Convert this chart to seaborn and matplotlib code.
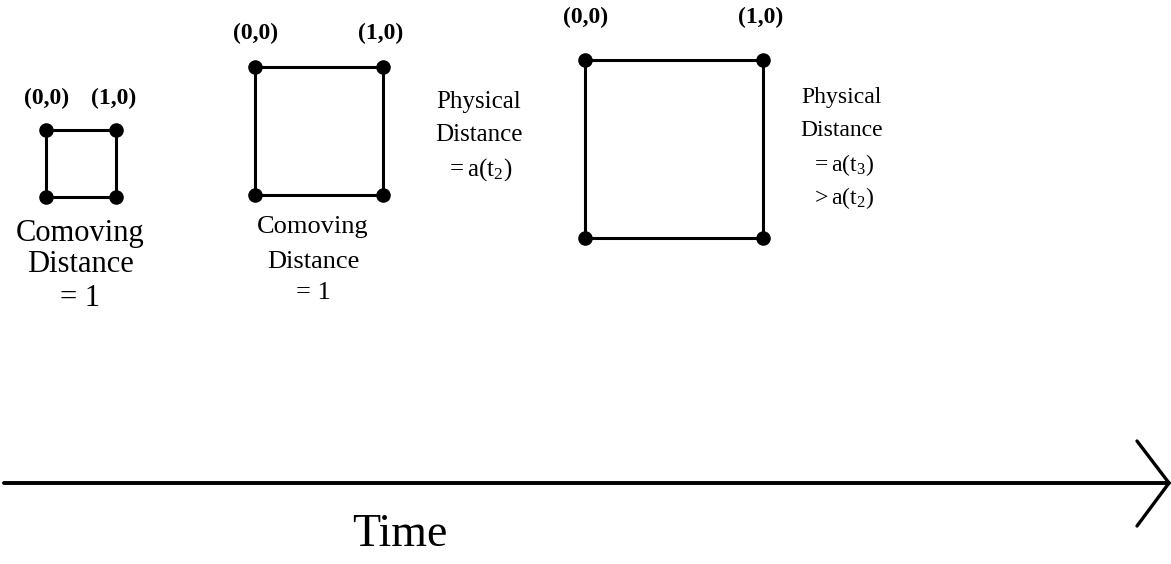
import matplotlib
matplotlib.use("Agg")
import matplotlib.pyplot as plt
import seaborn as sns
import pandas as pd

sns.set_theme(style="white")
plt.rcParams['font.family'] = ['Liberation Serif', 'DejaVu Serif']
plt.rcParams['mathtext.fontset'] = 'custom'
plt.rcParams['mathtext.rm'] = 'Liberation Serif'
plt.rcParams['mathtext.it'] = 'Liberation Serif:italic'

# Squares (pixel coordinates of the diagram)
square_left = [46, 255, 585]
square_right = [116, 383, 763]
square_top = [130, 67, 60]
square_bottom = [197, 195, 238]
corner_labels = ["(0,0)", "(1,0)"]
label_y = [98, 33, 17]

comoving_text = ["Comoving", "Distance", "= 1"]
comoving_x = [80, 313]
comoving_y = [[233, 265, 298], [227, 262, 293]]
comoving_size = [22, 19]

phys2_text = ["Physical", "Distance", r"$=\mathrm{a}(\mathrm{t}_2)$"]
phys2_x = 479
phys2_y = [102, 135, 170]
phys3_text = ["Physical", "Distance", r"$=\mathrm{a}(\mathrm{t}_3)$", r"$>\mathrm{a}(\mathrm{t}_2)$"]
phys3_x = 842
phys3_y = [97, 130, 165, 198]

axis_y = 483
axis_x = [4, 1169]
time_label = "Time"
time_pos = (400, 535)

fig = plt.figure(figsize=(11.71, 5.64), dpi=100)
ax = fig.add_axes([0, 0, 1, 1])
ax.set_xlim(0, 1171)
ax.set_ylim(564, 0)
ax.axis("off")

rows = []
for i in range(3):
    for x in (square_left[i], square_right[i]):
        for y in (square_top[i], square_bottom[i]):
            rows.append({"x": x, "y": y, "sq": i})
corners = pd.DataFrame(rows)

for i in range(3):
    xs = [square_left[i], square_right[i], square_right[i], square_left[i], square_left[i]]
    ys = [square_top[i], square_top[i], square_bottom[i], square_bottom[i], square_top[i]]
    ax.plot(xs, ys, color="black", lw=2.2, solid_joinstyle="miter", zorder=2)
    ax.text(square_left[i] + 1, label_y[i], corner_labels[0], ha="center", va="center",
            fontsize=17, fontweight="bold", color="black")
    ax.text(square_right[i] - 2, label_y[i], corner_labels[1], ha="center", va="center",
            fontsize=17, fontweight="bold", color="black")

sns.scatterplot(data=corners, x="x", y="y", ax=ax, color="black", s=110,
                edgecolor="black", linewidth=0, zorder=3, legend=False)
ax.set_xlim(0, 1171)
ax.set_ylim(564, 0)
ax.set_xlabel("")
ax.set_ylabel("")

for j in range(2):
    for t, y in zip(comoving_text, comoving_y[j]):
        ax.text(comoving_x[j], y, t, ha="center", va="center",
                fontsize=comoving_size[j], color="black")

for t, y in zip(phys2_text, phys2_y):
    ax.text(phys2_x, y, t, ha="center", va="center", fontsize=18, color="black")
for t, y in zip(phys3_text, phys3_y):
    ax.text(phys3_x, y, t, ha="center", va="center", fontsize=17, color="black")

# time axis
ax.plot(axis_x, [axis_y, axis_y], color="black", lw=2.8, zorder=2)
ax.plot([1137, axis_x[1], 1137], [441, axis_y, 526], color="black", lw=2.4,
        solid_joinstyle="miter", zorder=2)
ax.text(time_pos[0], time_pos[1], time_label, ha="center", va="center",
        fontsize=33, color="black")

fig.savefig("out.png", dpi=100, facecolor="white")
